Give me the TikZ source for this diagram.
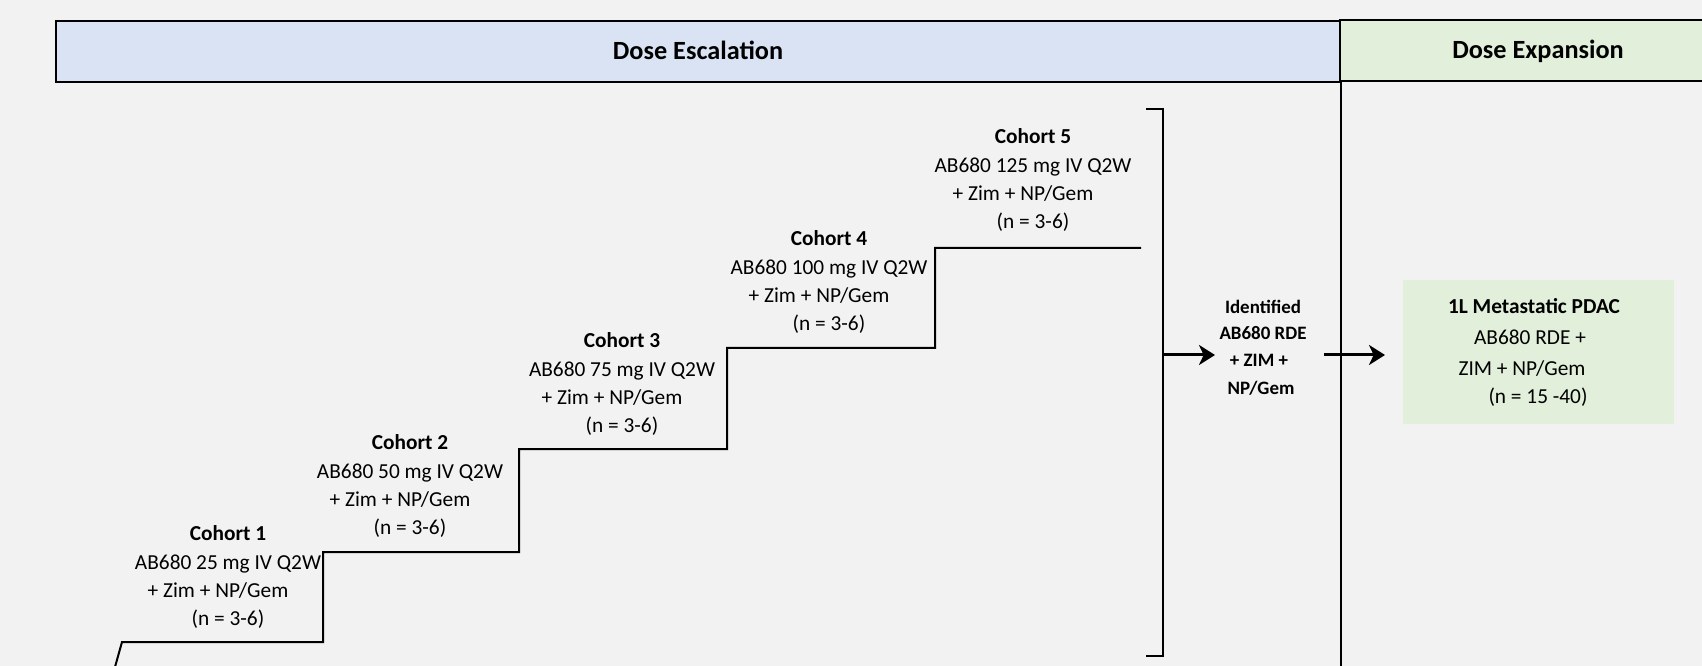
\documentclass[tikz,border=0pt]{standalone}
\usepackage{fontspec}
\setmainfont{Carlito}
\usetikzlibrary{arrows.meta}
\definecolor{bg}{HTML}{F2F2F2}
\definecolor{escblue}{HTML}{DAE3F3}
\definecolor{expgreen}{HTML}{E2EFDA}
\begin{document}
\begin{tikzpicture}[x=0.75pt,y=-0.75pt,
  txt/.style={inner sep=0pt, anchor=center, text height=10.3pt, text depth=0pt, font=\fontsize{16}{19}\selectfont},
  ttl/.style={txt, font=\fontsize{16}{19}\selectfont\bfseries},
  idt/.style={inner sep=0pt, anchor=center, text height=9.1pt, text depth=0pt, font=\fontsize{14.2}{17}\selectfont\bfseries},
  hdr/.style={draw=black, line width=1.5pt, inner sep=0pt, text height=12.7pt, text depth=0pt, font=\fontsize{19.7}{23}\selectfont\bfseries},
  stair/.style={draw=black, line width=1.5pt},
  arr/.style={draw=black, line width=2.25pt, -{Stealth[length=12pt, width=15pt, inset=3.5pt]}}]
\useasboundingbox[fill=bg] (0,0) rectangle (1702,666);

% header boxes
\node[hdr, fill=escblue, minimum width=963pt, minimum height=45.75pt] (esc) at (698,51.5) {Dose Escalation};
\node[hdr, fill=expgreen, minimum width=297pt, minimum height=45.75pt, line width=1.2pt] (exp) at (1538,50.5) {Dose Expansion};

% separator line
\coordinate (v1) at (1341,81);
\coordinate (v2) at (1341,667);
\draw[stair] (v1) -- (v2);

% staircase
\coordinate (s0) at (115,667);
\coordinate (s1) at (122,642);
\coordinate (s2) at (323,642);
\coordinate (s3) at (323,552);
\coordinate (s4) at (519,552);
\coordinate (s5) at (519,449);
\coordinate (s6) at (727,449);
\coordinate (s7) at (727,348);
\coordinate (s8) at (935,348);
\coordinate (s9) at (935,248);
\coordinate (s10) at (1141,248);
\draw[stair] (s0) -- (s1) -- (s2) -- (s3) -- (s4) -- (s5) -- (s6) -- (s7) -- (s8) -- (s9) -- (s10);

% cohorts
\foreach \i/\x/\y/\d in {1/228/534/25, 2/410/443/50, 3/622/341/75, 4/829/239/100, 5/1033/137/125}{
  \node[ttl] (c\i t) at (\x,\y) {Cohort \i};
  \node[txt] (c\i a) at (\x,\y+29) {AB680 \d\ mg IV Q2W};
  \node[txt] (c\i b) at (\x-10,\y+57) {+ Zim + NP/Gem};
  \node[txt] (c\i c) at (\x,\y+85) {(n = 3-6)};
}

% bracket
\coordinate (b1) at (1146,109);
\coordinate (b2) at (1163,109);
\coordinate (b3) at (1163,656);
\coordinate (b4) at (1146,656);
\draw[stair] (b1) -- (b2) -- (b3) -- (b4);

% identified RDE
\node[idt] (r1) at (1263,307) {Identified};
\node[idt] (r2) at (1263,333) {AB680 RDE};
\node[idt] (r3) at (1259,360) {+ ZIM +};
\node[idt] (r4) at (1261,388) {NP/Gem};

% expansion cohort
\node[fill=expgreen, inner sep=0pt, minimum width=203.25pt, minimum height=108pt] (pdac) at (1538.5,352) {};
\node[ttl] (p1) at (1534,307) {1L Metastatic PDAC};
\node[txt] (p2) at (1530,338) {AB680 RDE +};
\node[txt] (p3) at (1522,369) {ZIM + NP/Gem};
\node[txt] (p4) at (1538,397) {(n = 15 -40)};

% arrows
\coordinate (a1s) at (1163,355);
\coordinate (a1e) at (1215,355);
\coordinate (a2s) at (1324,355);
\coordinate (a2e) at (1385,355);
\draw[arr] (a1s) -- (a1e);
\draw[arr] (a2s) -- (a2e);
\end{tikzpicture}
\end{document}
